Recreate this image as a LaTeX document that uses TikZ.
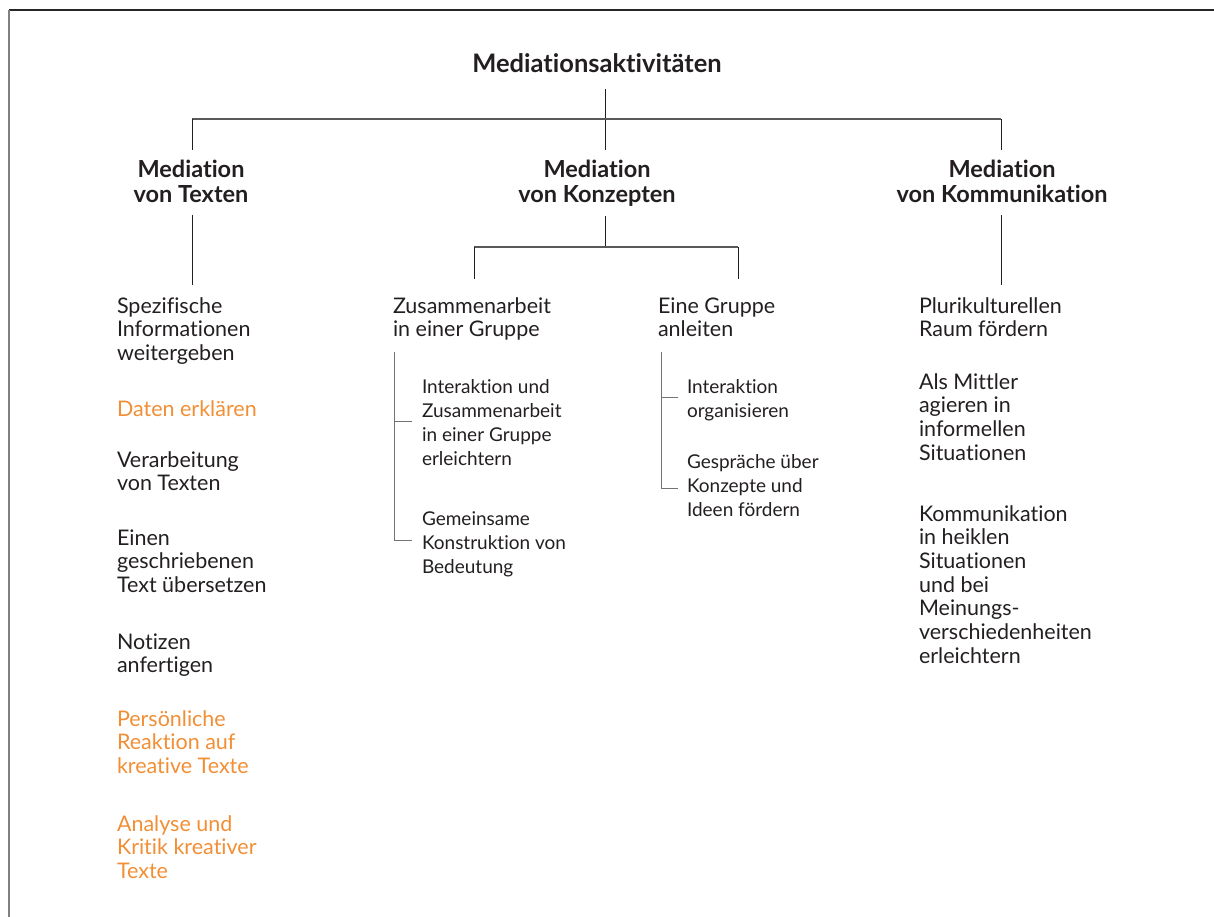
\documentclass[tikz,border=0pt]{standalone}
\usepackage{fontspec}
\setmainfont{Lato}[Ligatures=NoCommon]
\definecolor{txt}{HTML}{231F20}
\definecolor{org}{HTML}{F28E34}
\newcommand\LL[1]{\hbox{#1}}
\newcommand\CC[1]{\vtop{\halign{\hfil##\hfil\cr#1\crcr}}}
\begin{document}
\begin{tikzpicture}[x=1pt,y=-1pt,
  every node/.style={inner sep=0pt, outer sep=0pt, text=txt},
  body/.style={font=\fontsize{21.5}{23.7}\selectfont, anchor=base west},
  small/.style={font=\fontsize{19}{24}\selectfont, anchor=base west},
  head/.style={font=\bfseries\fontsize{23.5}{25}\selectfont, anchor=base},
  title/.style={font=\bfseries\fontsize{25.5}{28}\selectfont, anchor=base},
  hot/.style={text=org},
  conn/.style={line width=0.9pt, draw=txt},
  hline/.style={line width=1.3pt, draw=black!65},
  brk/.style={line width=0.9pt, draw=black!55}]
\useasboundingbox (0,0) rectangle (1214,917);
% frame
\draw[line width=1.3pt, black!85] (9,10) -- (1214,10);
\draw[line width=1.6pt, black!50] (9,10) -- (9,917);

% title and heads
\node[title] (top) at (597,73) {Mediationsaktivitäten};
\node[head] (h1) at (191,178) {\CC{Mediation\cr von Texten}};
\node[head] (h2) at (597,178) {\CC{Mediation\cr von Konzepten}};
\node[head] (h3) at (1002,178) {\CC{Mediation\cr von Kommunikation}};

% junction coordinates
\coordinate (t0) at (605,89);
\coordinate (tj) at (605,119);
\coordinate (l0) at (192,119);
\coordinate (r0) at (1001,119);
\coordinate (l1) at (192,150);
\coordinate (m1) at (605,150);
\coordinate (r1) at (1001,150);

\draw[conn] (t0) -- (m1);
\draw[hline] (l0) -- (r0);
\draw[conn] (l0) -- (l1);
\draw[conn] (r0) -- (r1);

% left column
\node[body] (a1) at (117,313) {\vtop{\LL{Spezifische}\LL{Informationen}\LL{weitergeben}}};
\node[body,hot] (a2) at (117,416) {Daten erklären};
\node[body] (a3) at (117,467) {\vtop{\LL{Verarbeitung}\LL{von Texten}}};
\node[body] (a4) at (117,545) {\vtop{\LL{Einen}\LL{geschriebenen}\LL{Text übersetzen}}};
\node[body] (a5) at (117,649) {\vtop{\LL{Notizen}\LL{anfertigen}}};
\node[body,hot] (a6) at (117,726) {\vtop{\LL{Persönliche}\LL{Reaktion auf}\LL{kreative Texte}}};
\node[body,hot] (a7) at (117,831) {\vtop{\LL{Analyse und}\LL{Kritik kreativer}\LL{Texte}}};

\coordinate (la) at (192,215);
\coordinate (lb) at (192,285);
\draw[conn] (la) -- (lb);

% middle column
\node[body] (b1) at (393,313) {\vtop{\LL{Zusammenarbeit}\LL{in einer Gruppe}}};
\node[body] (b2) at (658,313) {\vtop{\LL{Eine Gruppe}\LL{anleiten}}};
\node[small] (b11) at (422,393) {\vtop{\LL{Interaktion und}\LL{Zusammenarbeit}\LL{in einer Gruppe}\LL{erleichtern}}};
\node[small] (b12) at (422,525) {\vtop{\LL{Gemeinsame}\LL{Konstruktion von}\LL{Bedeutung}}};
\node[small] (b21) at (687,393) {\vtop{\LL{Interaktion}\LL{organisieren}}};
\node[small] (b22) at (687,468) {\vtop{\LL{Gespräche über}\LL{Konzepte und}\LL{Ideen fördern}}};

\coordinate (ma) at (605,216);
\coordinate (mj) at (605,247);
\coordinate (mL) at (474,247);
\coordinate (mR) at (738,247);
\coordinate (mLb) at (474,279);
\coordinate (mRb) at (738,279);
\draw[conn] (ma) -- (mj);
\draw[hline] (mL) -- (mR);
\draw[conn] (mL) -- (mLb);
\draw[conn] (mR) -- (mRb);

% brackets
\coordinate (k1) at (394,352);
\coordinate (k2) at (394,421);
\coordinate (k3) at (394,540);
\draw[brk] (k1) -- (k3) -- (412,540);
\draw[brk] (k2) -- (412,421);
\coordinate (q1) at (661,352);
\coordinate (q2) at (661,397);
\coordinate (q3) at (661,488);
\draw[brk] (q1) -- (q3) -- (678,488);
\draw[brk] (q2) -- (678,397);

% right column
\node[body] (c1) at (919,313) {\vtop{\LL{Plurikulturellen}\LL{Raum fördern}}};
\node[body] (c2) at (919,389) {\vtop{\LL{Als Mittler}\LL{agieren in}\LL{informellen}\LL{Situationen}}};
\node[body] (c3) at (919,521) {\vtop{\LL{Kommunikation}\LL{in heiklen}\LL{Situationen}\LL{und bei}\LL{Meinungs-}\LL{verschiedenheiten}\LL{erleichtern}}};

\coordinate (ra) at (1001,215);
\coordinate (rb) at (1001,285);
\draw[conn] (ra) -- (rb);
\end{tikzpicture}
\end{document}
